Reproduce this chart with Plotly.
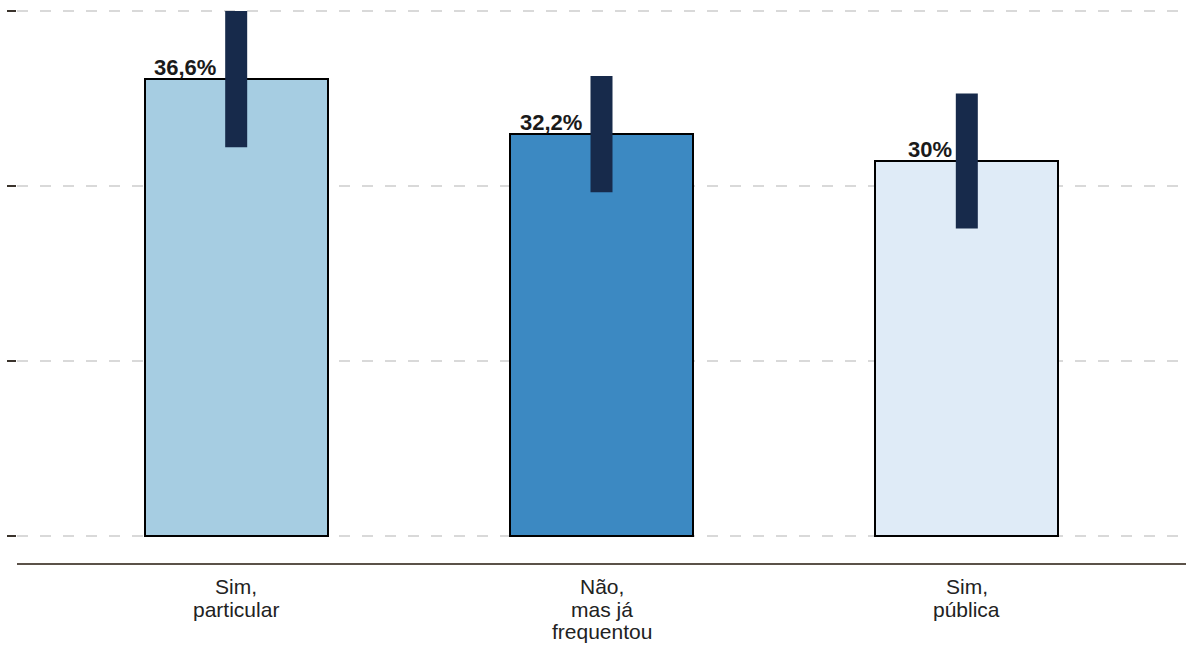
import plotly.graph_objects as go

categories = ["Sim,<br>particular", "Não,<br>mas já<br>frequentou", "Sim,<br>pública"]
values = [36.6, 32.2, 30.0]
ci_upper = [42.0, 36.8, 35.4]
ci_lower = [31.1, 27.5, 24.6]
value_labels = ["36,6%", "32,2%", "30%"]
grid_ticks = [0, 14, 28, 42]

bar_colors = ["#a6cde2", "#3c89c2", "#dfebf7"]

FONT = "Liberation Sans, Arial, sans-serif"
x_idx = list(range(len(categories)))

fig = go.Figure()
fig.add_trace(go.Bar(
    x=x_idx,
    y=values,
    width=0.5,
    marker=dict(color=bar_colors, line=dict(color="#000000", width=2)),
    error_y=dict(
        type="data",
        symmetric=False,
        array=[u - v for u, v in zip(ci_upper, values)],
        arrayminus=[v - l for v, l in zip(values, ci_lower)],
        thickness=22,
        width=0,
        color="#172a4b",
    ),
    hoverinfo="skip",
))

# value labels (bold, left of error bar)
for xi, v, lab in zip(x_idx, values, value_labels):
    fig.add_annotation(
        x=xi, y=v, text="<b>" + lab + "</b>",
        xanchor="right", yanchor="bottom",
        xshift=-(6.5 + 2.25 * len(lab)), yshift=-3,
        showarrow=False,
        font=dict(family=FONT, size=22, color="#1a1a1a"),
    )

# category labels, one annotation per line for tighter line spacing
for xi, cat in zip(x_idx, categories):
    for i, line in enumerate(cat.split("<br>")):
        fig.add_annotation(
            x=xi, xref="x", y=0, yref="paper",
            text=line, xanchor="center", yanchor="top",
            yshift=-10 - 22.7 * i,
            showarrow=False,
            font=dict(family=FONT, size=21, color="#222222"),
        )

fig.update_layout(
    width=1186, height=646,
    margin=dict(l=17, r=0, t=0, b=83),
    paper_bgcolor="white",
    plot_bgcolor="white",
    showlegend=False,
    bargap=0,
    font=dict(family=FONT, size=17, color="#222222"),
)
fig.update_xaxes(
    range=[-0.6, 2.6],
    tickmode="array",
    tickvals=x_idx,
    showticklabels=False,
    showgrid=False,
    zeroline=False,
    showline=True,
    linecolor="#5b5249",
    linewidth=2,
    ticks="",
    automargin=False,
)
fig.update_yaxes(
    range=[-2.16, 42.88],
    tickmode="array",
    tickvals=grid_ticks,
    showticklabels=False,
    ticks="outside",
    ticklen=9,
    tickwidth=2,
    tickcolor="#3a332c",
    showgrid=True,
    gridcolor="#d9d9d9",
    gridwidth=2,
    griddash="11px,12px",
    zeroline=False,
    showline=False,
    automargin=False,
)

fig.write_html(
    "out.html",
    config={"displayModeBar": False},
    post_script="document.body.style.margin='0';document.body.style.overflow='hidden';",
)
